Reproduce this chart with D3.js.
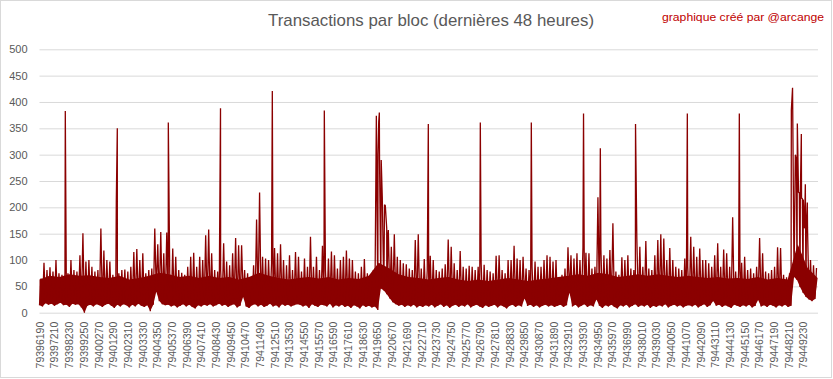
<!DOCTYPE html>
<html><head><meta charset="utf-8">
<script src="https://cdn.jsdelivr.net/npm/d3@7"></script>
<style>body{margin:0;background:#fff;overflow:hidden}</style></head>
<body>
<svg id="c" width="833" height="379"></svg>
<script>
const titleText = "Transactions par bloc (dernières 48 heures)";
const creditText = "graphique créé par @arcange";
const firstBlock = 79396190, lastBlock = 79450270, sampleStep = 208, coreStep = 693;

// upper envelope of each ~208-block slice (transactions per block)
const txHigh = [
 65,95,81,86,78,100,75,72,75,75,
 100,81,78,109,151,97,100,87,78,81,
 160,118,100,97,72,68,75,81,82,78,
 87,115,121,100,113,75,81,84,160,130,
 153,113,152,
 75,122,106,81,76,72,87,
 106,114,87,106,100,147,158,113,81,78,
 81,132,97,90,113,142,128,128,81,75,
 67,90,177,228,106,103,100,94,123,113,
 130,100,90,109,81,115,106,
 78,103,87,
 144,87,106,81,127,81,103,116,109,84,
 100,106,118,103,100,78,75,87,102,75,
 72,81,374,380,211,203,157,125,149,106,
 100,94,92,84,81,138,149,84,102,81,
 108,100,81,78,84,92,139,125,94,81,
 117,87,84,89,87,81,87,94,91,81,
 78,75,108,109,81,75,100,100,127,103,
 100,106,84,81,87,97,87,87,100,109,
 106,97,100,
 65,72,84,124,109,103,113,
 100,124,114,113,84,87,219,120,109,103,
 119,170,78,72,105,100,109,84,81,140,
 125,87,136,84,81,109,138,149,141,100,
 123,100,87,84,81,103,87,
 144,125,106,
 122,100,100,94,87,109,132,87,120,113,
 87,181,78,81,95,106,81,84,75,87,
 142,113,78,75,81,87,124,123,72,67,
 75,427,299,228,217,161,161,100,90,85
];
// lower envelope of each slice
const txLow = [
 14,12,18,15,17,13,16,19,14,15,
 11,17,15,16,10,0,13,15,12,16,
 14,11,15,17,13,9,15,12,16,14,
 10,15,12,17,13,11,14,3,15,40,
 22,16,14,
 15,12,14,10,13,16,12,
 15,11,8,14,12,15,13,16,12,14,
 17,13,15,11,14,16,10,13,30,12,
 9,14,16,12,15,11,13,17,12,14,
 10,16,13,15,12,14,16,
 15,12,14,
 9,16,13,11,15,14,12,17,10,14,
 12,15,11,13,9,14,12,8,14,11,
 13,10,12,5,46,42,35,27,20,16,
 13,15,11,14,12,15,10,13,11,14,
 12,15,10,13,16,11,14,9,13,15,
 11,14,12,16,10,13,15,12,9,14,
 11,13,15,10,14,12,8,13,15,11,
 14,12,27,13,15,11,14,10,13,15,
 12,14,11,
 13,15,11,14,38,12,15,
 10,13,16,11,14,12,25,13,9,14,
 12,15,11,8,14,12,15,10,13,16,
 11,14,12,15,9,13,11,14,12,16,
 10,13,15,12,14,10,13,
 14,12,15,
 10,13,16,11,14,22,13,15,11,14,
 12,9,15,13,11,14,12,15,10,13,
 24,12,14,11,15,13,10,14,12,15,
 11,13,68,62,49,38,30,25,22,26
];
// level up to which the band of values is dense (every ~693 blocks)
const txCore = [
 63,70,68,73,70,71,68,66,70,63,
 66,70,76,73,68,70,66,70,66,68,
 63,68,76,70,66,63,66,68,65,68,
 63,66,64,70,95,85,73,68,66,63,
 66,68,63,60,63,60,63,66,63,60,
 63,65,68,70,73,70,76,73,68,70,
 73,70,73,70,68,70,68,66,68,65,
 66,64,68,63,66,63,130,85,66
];
// isolated tall spikes
const spikeBlocks = [79397982,79401525,79401595,79405138,79408764,79412363,79415975,
 79419706,79419754,79419810,79419928,79420004,79420157,79420310,79420400,
 79423200,79426812,79430355,79433982,79435149,
 79437594,79441193,79444805,79448418,79448695,79448765,79448834,79448973,79449043,
 79449112,79449182,79449251,79449321,79449390,79449460,79449529];
const spikeTx = [383,211,350,361,388,421,384,
 300,362,293,290,217,205,160,150,
 358,361,361,378,312,
 358,378,378,384,299,290,359,228,225,
 339,217,215,161,244,161,209];

const tickBlocks = [79396190,79397210,79398230,79399250,79400270,79401290,79402310,79403330,
 79404350,79405370,79406390,79407410,79408430,79409450,79410470,79411490,79412510,79413530,
 79414550,79415570,79416590,79417610,79418630,79419650,79420670,79421690,79422710,79423730,
 79424750,79425770,79426790,79427810,79428830,79429850,79430870,79431890,79432910,79433930,
 79434950,79435970,79436990,79438010,79439030,79440050,79441070,79442090,79443110,79444130,
 79445150,79446170,79447190,79448210,79449230];
const yTicks = [0,50,100,150,200,250,300,350,400,450,500];

const svg = d3.select('#c');
const plotL = 39.5, plotR = 818, plotB = 312.7, plotT = 49.3;
const x = d3.scaleLinear().domain([firstBlock, lastBlock]).range([plotL, plotR]);
const y = d3.scaleLinear().domain([0, 500]).range([plotB, plotT]);
const lineGen = d3.line().x(d => x(d[0])).y(d => y(d[1]));

svg.append('rect').attr('x',0.5).attr('y',0.5).attr('width',831).attr('height',377)
  .attr('fill','#fff').attr('stroke','#d9d9d9');

const gy = svg.append('g').attr('transform',`translate(${plotL},0)`)
  .call(d3.axisLeft(y).tickValues(yTicks).tickSize(-(plotR-plotL)).tickPadding(12));
gy.select('.domain').remove();
gy.selectAll('line').attr('stroke','#d9d9d9');
gy.selectAll('text').attr('fill','#595959').style('font-family','"Liberation Sans", Arial, sans-serif').style('font-size','11px');

const gx = svg.append('g').attr('transform',`translate(0,${plotB})`)
  .call(d3.axisBottom(x).tickValues(tickBlocks).tickSize(0).tickFormat(d3.format('d')));
gx.select('.domain').remove();
gx.selectAll('text')
  .attr('transform','rotate(-90)').attr('x',-9).attr('y',0).attr('dy','0.36em')
  .attr('text-anchor','end').attr('fill','#595959')
  .style('font-family','"Liberation Sans", Arial, sans-serif').style('font-size','10.5px');

// dense core: polygon from the core level (top) back along the lower envelope
const corePts = txCore.map((v,k) => [Math.min(firstBlock + k*coreStep, lastBlock), v]);
const lowPts = txLow.map((v,i) => [firstBlock + i*sampleStep, v]);
const poly = corePts.concat(lowPts.slice().reverse());
svg.append('path').attr('d', lineGen(poly) + 'Z')
  .attr('fill','#8b0000').attr('stroke','none');

// jagged series line
const pts = [];
txHigh.forEach((h,i) => {
  const b = firstBlock + i*sampleStep;
  pts.push([b, txLow[i]]);
  pts.push([b + sampleStep/2, h]);
});
spikeBlocks.forEach((b,i) => pts.push([b, spikeTx[i]]));
pts.sort((a,b) => a[0]-b[0]);

svg.append('path').datum(pts)
  .attr('d', lineGen)
  .attr('fill','none').attr('stroke','#8b0000').attr('stroke-width',1.3)
  .attr('stroke-linejoin','bevel');

svg.append('text').attr('x',431).attr('y',26).attr('text-anchor','middle')
  .attr('fill','#595959').style('font-family','"Liberation Sans", Arial, sans-serif')
  .style('font-size','17px').attr('textLength',326).attr('lengthAdjust','spacingAndGlyphs')
  .text(titleText);
svg.append('text').attr('x',824).attr('y',21).attr('text-anchor','end')
  .attr('fill','#c00000').style('font-family','"Liberation Sans", Arial, sans-serif')
  .style('font-size','11.5px').attr('textLength',162).attr('lengthAdjust','spacingAndGlyphs')
  .text(creditText);
</script>
</body></html>
